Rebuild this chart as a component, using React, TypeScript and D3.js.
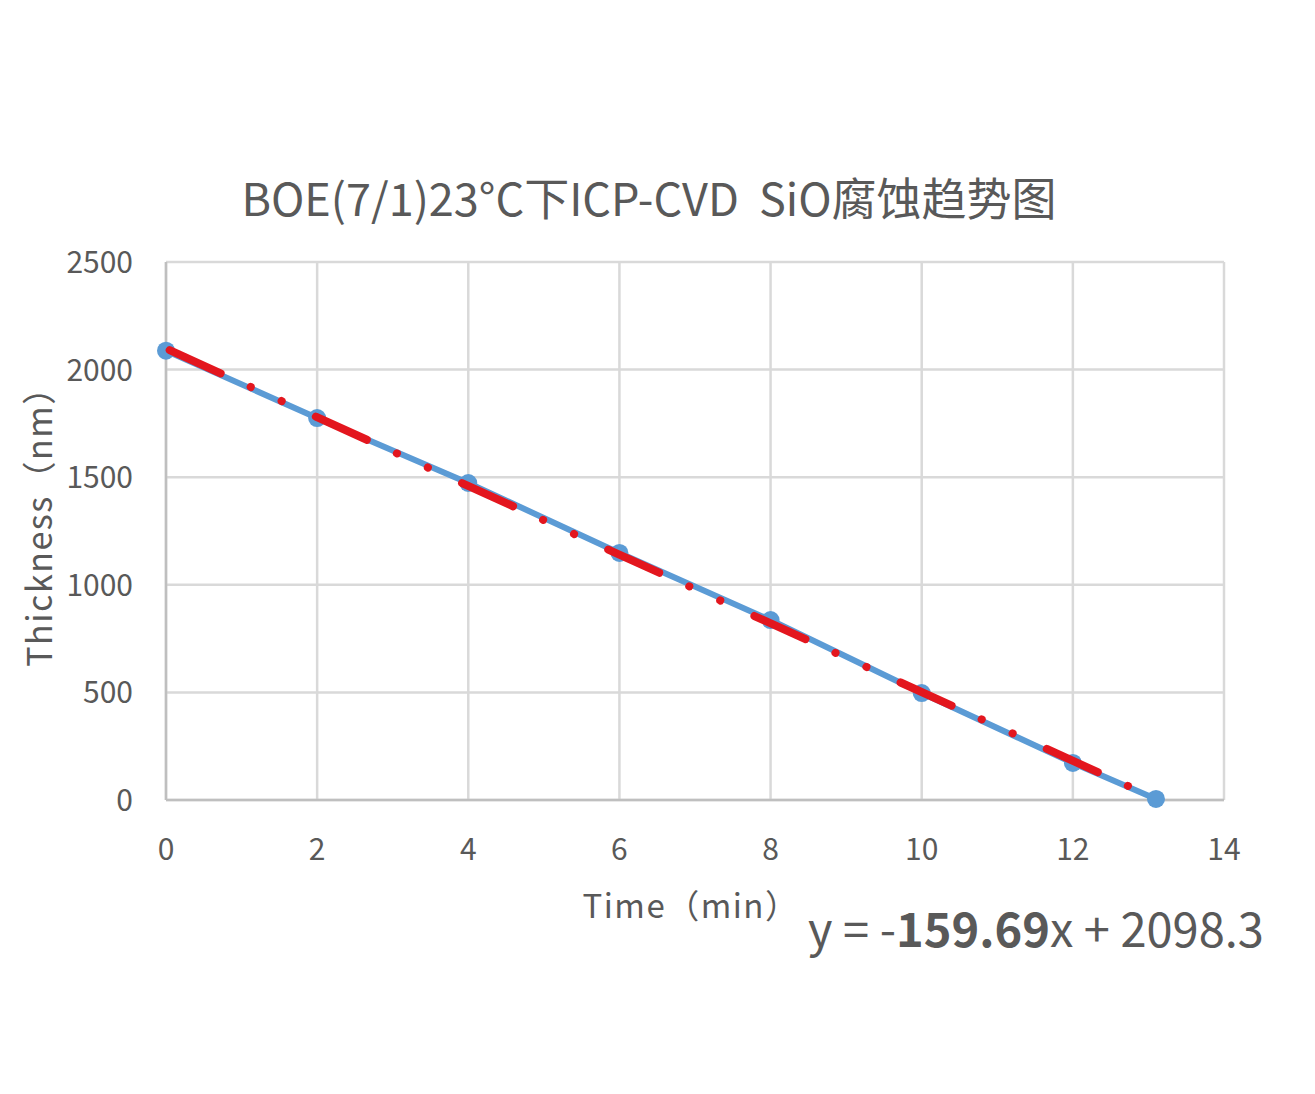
import { useEffect } from "react";
import * as d3 from "d3";

// measured etch data
const timeMin = [0, 2, 4, 6, 8, 10, 12, 13.1];
const thicknessNm = [2088, 1775, 1473, 1148, 836, 497, 172, 5];

const xTicks = [0, 2, 4, 6, 8, 10, 12, 14];
const yTicks = [0, 500, 1000, 1500, 2000, 2500];

// linear fit shown on the chart
const slope = -159.69;
const intercept = 2098.3;

const W = 1315;
const H = 1094;
const FONT = "'Noto Sans CJK SC', 'Noto Sans', sans-serif";

export default function App() {
  useEffect(() => {
    document.body.style.margin = "0";
  }, []);

  const x = d3.scaleLinear().domain([0, 14]).range([166, 1224]);
  const y = d3.scaleLinear().domain([0, 2500]).range([800, 262]);

  const pts = timeMin.map((t, i) => [t, thicknessNm[i]] as [number, number]);
  const line = d3
    .line<[number, number]>()
    .x((d) => x(d[0]))
    .y((d) => y(d[1]));

  const xEnd = timeMin[timeMin.length - 1];
  const fit: [number, number][] = [
    [0, intercept],
    [xEnd, slope * xEnd + intercept],
  ];

  return (
    <svg width={W} height={H} style={{ display: "block", background: "#fff" }}>
      <text
        x={649}
        y={216}
        textAnchor="middle"
        fontFamily={FONT}
        fontSize={45}
        fill="#595959"
        style={{ whiteSpace: "pre" }}
      >
        {"BOE(7/1)23°C下ICP-CVD  SiO腐蚀趋势图"}
      </text>

      {/* grid */}
      {yTicks.map((t) => (
        <line
          key={"gy" + t}
          x1={x(0)}
          x2={x(14)}
          y1={y(t)}
          y2={y(t)}
          stroke="#d9d9d9"
          strokeWidth={2.5}
        />
      ))}
      {xTicks.map((t) => (
        <line
          key={"gx" + t}
          x1={x(t)}
          x2={x(t)}
          y1={y(0)}
          y2={y(2500)}
          stroke="#d9d9d9"
          strokeWidth={2.5}
        />
      ))}
      {/* axes */}
      <line x1={x(0)} x2={x(0)} y1={y(0)} y2={y(2500)} stroke="#bfbfbf" strokeWidth={2.5} />
      <line x1={x(0)} x2={x(14)} y1={y(0)} y2={y(0)} stroke="#bfbfbf" strokeWidth={2.5} />

      {/* tick labels */}
      {yTicks.map((t) => (
        <text
          key={"ly" + t}
          x={133}
          y={y(t) + 11}
          textAnchor="end"
          fontFamily={FONT}
          fontSize={30}
          fill="#595959"
        >
          {t}
        </text>
      ))}
      {xTicks.map((t) => (
        <text
          key={"lx" + t}
          x={x(t)}
          y={860}
          textAnchor="middle"
          fontFamily={FONT}
          fontSize={30}
          fill="#595959"
        >
          {t}
        </text>
      ))}

      {/* axis titles */}
      <text
        x={691}
        y={918}
        textAnchor="middle"
        fontFamily={FONT}
        fontSize={33}
        letterSpacing={1.5}
        fill="#595959"
      >
        Time（min）
      </text>
      <text
        transform={`translate(52, 518) rotate(-90)`}
        textAnchor="middle"
        fontFamily={FONT}
        fontSize={34}
        letterSpacing={1.5}
        fill="#595959"
      >
        Thickness（nm）
      </text>

      {/* data series */}
      <path d={line(pts) ?? ""} fill="none" stroke="#5b9bd5" strokeWidth={6} />
      {pts.map((d, i) => (
        <circle key={"m" + i} cx={x(d[0])} cy={y(d[1])} r={9} fill="#5b9bd5" />
      ))}

      {/* linear trendline, long dash dot dot */}
      <path
        d={line(fit) ?? ""}
        fill="none"
        stroke="#e3161e"
        strokeWidth={8}
        strokeLinecap="round"
        strokeDasharray="56 33 0.1 33.9 0.1 37.5"
        strokeDashoffset={-4}
      />

      {/* trendline equation */}
      <text x={808} y={947} fontFamily={FONT} fontSize={47} fill="#595959">
        y = -<tspan fontWeight="bold">{Math.abs(slope).toFixed(2)}</tspan>x + {intercept}
      </text>
    </svg>
  );
}
